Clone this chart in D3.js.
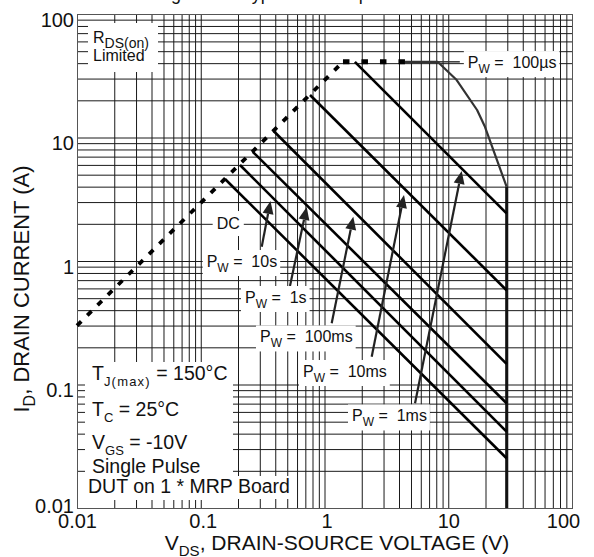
<!DOCTYPE html>
<html><head><meta charset="utf-8">
<script src="https://cdn.jsdelivr.net/npm/d3@7"></script>
<style>
body{margin:0;background:#fff}
svg{display:block}
text{font-family:"Liberation Sans",Arial,Helvetica,sans-serif;fill:#111}
</style>
</head><body>
<svg id="c" width="594" height="557"></svg>
<script>
// ---------- data ----------
const xMajor = [0.01, 0.1, 1, 10, 100];
const xMajorLabels = ["0.01", "0.1", "1", "10", "100"];
const yMajor = [0.01, 0.1, 1, 10, 100];
const yMajorLabels = ["0.01", "0.1", "1", "10", "100"];

// RDS(on) limit (dashed)
const rdsV = [0.01, 1.41];
const rdsI = [0.3, 41];
const plateauV = [1.41, 4.47];
const plateauI = [41, 41];
// 100us curve
const pw100usV = [4.47, 8.2, 11.7, 17.1, 19.8, 29.6];
const pw100usI = [41, 41, 29.2, 16.7, 12.2, 4.0];
const leaderV = [8.2, 12.4];
const leaderI = [41, 41];
// VDS(max) boundary
const boundV = [29.6, 29.6];
const boundI = [4.0, 0.01];
// pulse lines
const pulseNames = ["1ms", "10ms", "100ms", "1s", "10s", "DC"];
const pulseStartV = [1.76, 0.764, 0.386, 0.263, 0.2075, 0.157];
const pulseStartI = [41, 22.1, 11.35, 7.67, 5.99, 4.61];
const pulseEndV = [29.6, 29.6, 29.6, 29.6, 29.6, 29.6];
const pulseEndI = [2.43, 0.58, 0.147, 0.0705, 0.0415, 0.0253];
// arrows (tail -> tip)
const arrowNames = ["10s", "1s", "100ms", "10ms", "1ms"];
const arrowTailV = [0.311, 0.526, 1.143, 2.406, 5.39];
const arrowTailI = [1.306, 0.627, 0.313, 0.168, 0.0705];
const arrowTipV = [0.366, 0.718, 1.709, 4.39, 12.84];
const arrowTipI = [3.06, 2.74, 2.285, 3.42, 5.36];
// label anchors (start, baseline) in data units
const labelText = ["100µs", "10s", "1s", "100ms", "10ms", "1ms"];
const labelV = [14.4, 0.1117, 0.2278, 0.301, 0.670, 1.668];
const labelI = [36.5, 0.894, 0.457, 0.219, 0.115, 0.0502];
const dcV = 0.1345, dcI = 1.815;

// ---------- layout ----------
const L = 77, T = 14, R = 572, B = 508;
const W = R - L, H = B - T;
const svg = d3.select("#c");
const x = d3.scaleLog().domain([0.01, 100]).range([L, R]);
const y = d3.scaleLog().domain([0.01, 100]).range([B, T]);

// title (cut at top)
svg.append("text").attr("x", 311).attr("y", -0.5).attr("text-anchor", "middle")
  .attr("font-size", 18).text("Figure 12. Typical Safe Operation Area");

// grid values
const gridVals = [];
[0.01, 0.1, 1, 10].forEach(d => { for (let k = 1; k <= 9; k++) gridVals.push(+(d * k).toPrecision(3)); });
gridVals.push(100);

const gx = svg.append("g").attr("transform", `translate(0,${B})`)
  .call(d3.axisBottom(x).tickValues(gridVals).tickSize(-H).tickFormat(""));
gx.select(".domain").remove();
gx.selectAll("line").attr("stroke", "#1a1a1a").attr("stroke-width", 1);
const gy = svg.append("g").attr("transform", `translate(${L},0)`)
  .call(d3.axisLeft(y).tickValues(gridVals).tickSize(-W).tickFormat(""));
gy.select(".domain").remove();
gy.selectAll("line").attr("stroke", "#1a1a1a").attr("stroke-width", 1);

svg.append("rect").attr("x", L + 0.5).attr("y", T + 0.5).attr("width", W).attr("height", H)
  .attr("fill", "none").attr("stroke", "#555").attr("stroke-width", 1);

// tick labels
const xl = svg.append("g").attr("transform", `translate(0,${B})`)
  .call(d3.axisBottom(x).tickValues(xMajor).tickSize(0).tickFormat((d, i) => xMajorLabels[i]));
xl.select(".domain").remove();
const xOff = [0, 2, 2, 0, -9];
xl.selectAll("text").attr("font-size", 20).attr("font-family", null).attr("fill", "#111")
  .attr("dy", null).attr("y", 20)
  .attr("dx", (d, i) => xOff[i]);
const yl = svg.append("g").attr("transform", `translate(${L},0)`)
  .call(d3.axisLeft(y).tickValues(yMajor).tickSize(0).tickFormat((d, i) => yMajorLabels[i]));
yl.select(".domain").remove();
yl.selectAll("text").attr("font-size", 20).attr("font-family", null).attr("fill", "#111")
  .attr("x", -3).attr("dy", (d, i) => i === 0 ? 4 : 12);

// axis titles
const xt = svg.append("text").attr("x", 337).attr("y", 550).attr("text-anchor", "middle").attr("font-size", 21);
xt.append("tspan").text("V");
xt.append("tspan").attr("font-size", 15).attr("dy", 6).text("DS");
xt.append("tspan").attr("dy", -6).text(", DRAIN-SOURCE VOLTAGE (V)");
const yt = svg.append("text").attr("transform", "translate(29,289) rotate(-90)").attr("text-anchor", "middle").attr("font-size", 22);
yt.append("tspan").text("I");
yt.append("tspan").attr("font-size", 16).attr("dy", 6).text("D");
yt.append("tspan").attr("dy", -6).text(", DRAIN CURRENT (A)");

// white boxes for fixed text blocks
svg.append("rect").attr("x", 88).attr("y", 23).attr("width", 70).attr("height", 49).attr("fill", "#fff");
svg.append("rect").attr("x", 85).attr("y", 362).attr("width", 148).attr("height", 138).attr("fill", "#fff");
svg.append("rect").attr("x", 85).attr("y", 476).attr("width", 207).attr("height", 23).attr("fill", "#fff");

// lines
const line = d3.line().x(d => x(d[0])).y(d => y(d[1]));
const zip = (a, b) => a.map((v, i) => [v, b[i]]);
svg.append("path").attr("d", line(zip(rdsV, rdsI))).attr("fill", "none")
  .attr("stroke", "#000").attr("stroke-width", 3.8).attr("stroke-dasharray", "6 8.5");
svg.append("path").attr("d", line(zip(plateauV, plateauI))).attr("fill", "none")
  .attr("stroke", "#000").attr("stroke-width", 5).attr("stroke-dasharray", "6.5 12");
svg.append("path").attr("d", line(zip(pw100usV, pw100usI))).attr("fill", "none")
  .attr("stroke", "#333").attr("stroke-width", 2.2).attr("stroke-linejoin", "round");
svg.append("path").attr("d", line(zip(leaderV, leaderI))).attr("fill", "none")
  .attr("stroke", "#333").attr("stroke-width", 1.5);
svg.append("path").attr("d", line(zip(boundV, boundI))).attr("fill", "none")
  .attr("stroke", "#111").attr("stroke-width", 2.8);
pulseNames.forEach((n, i) => {
  svg.append("path").attr("d", line([[pulseStartV[i], pulseStartI[i]], [pulseEndV[i], pulseEndI[i]]]))
    .attr("fill", "none").attr("stroke", "#000").attr("stroke-width", 2.6);
});

// arrows
arrowNames.forEach((n, i) => {
  const x0 = x(arrowTailV[i]), y0 = y(arrowTailI[i]);
  const x1 = x(arrowTipV[i]), y1 = y(arrowTipI[i]);
  const dx = x1 - x0, dy = y1 - y0, len = Math.hypot(dx, dy);
  const ux = dx / len, uy = dy / len, hl = 13, hw = 5.5;
  const bx = x1 - ux * hl, by = y1 - uy * hl;
  svg.append("line").attr("x1", x0).attr("y1", y0).attr("x2", bx).attr("y2", by)
    .attr("stroke", "#222").attr("stroke-width", 2.2);
  svg.append("path").attr("d", `M${x1},${y1}L${bx - uy * hw},${by + ux * hw}L${bx + uy * hw},${by - ux * hw}Z`)
    .attr("fill", "#222");
});

// labels with white backgrounds
function boxed(g, pad) {
  const bb = g.node().getBBox();
  g.insert("rect", ":first-child").attr("x", bb.x - pad[0]).attr("y", bb.y - pad[1])
    .attr("width", bb.width + pad[0] + pad[2]).attr("height", bb.height + pad[1] + pad[3]).attr("fill", "#fff");
}
labelText.forEach((t, i) => {
  const g = svg.append("g");
  const tx = g.append("text").attr("x", x(labelV[i])).attr("y", y(labelI[i])).attr("font-size", 16);
  tx.append("tspan").text("P");
  tx.append("tspan").attr("font-size", 12).attr("dy", 5).text("W");
  tx.append("tspan").attr("dy", -5).text(" =  " + t).attr("xml:space", "preserve");
  boxed(g, [4, 3, 3, 1]);
});
{
  const g = svg.append("g");
  g.append("text").attr("x", x(dcV)).attr("y", y(dcI)).attr("font-size", 16).text("DC");
  boxed(g, [4, 4, 4, 4]);
}

// RDS(on) Limited
const r1 = svg.append("text").attr("x", 93).attr("y", 43).attr("font-size", 16);
r1.append("tspan").text("R");
r1.append("tspan").attr("font-size", 14).attr("dy", 5).text("DS(on)");
svg.append("text").attr("x", 93).attr("y", 61).attr("font-size", 16).text("Limited");

// conditions
const c1 = svg.append("text").attr("x", 92).attr("y", 380).attr("font-size", 19.5);
c1.append("tspan").text("T");
c1.append("tspan").attr("font-size", 13).attr("dy", 6).attr("letter-spacing", 1.2).text("J(max)");
c1.append("tspan").attr("dy", -6).text(" = 150°C");
const c2 = svg.append("text").attr("x", 92).attr("y", 416).attr("font-size", 19.5);
c2.append("tspan").text("T");
c2.append("tspan").attr("font-size", 13).attr("dy", 6).text("C");
c2.append("tspan").attr("dy", -6).text(" = 25°C");
const c3 = svg.append("text").attr("x", 92).attr("y", 449).attr("font-size", 19.5);
c3.append("tspan").text("V");
c3.append("tspan").attr("font-size", 13).attr("dy", 6).text("GS");
c3.append("tspan").attr("dy", -6).text(" = -10V");
svg.append("text").attr("x", 92).attr("y", 472.5).attr("font-size", 19.5).text("Single Pulse");
svg.append("text").attr("x", 88).attr("y", 492.5).attr("font-size", 19.5).text("DUT on 1 * MRP Board");
</script>
</body></html>
